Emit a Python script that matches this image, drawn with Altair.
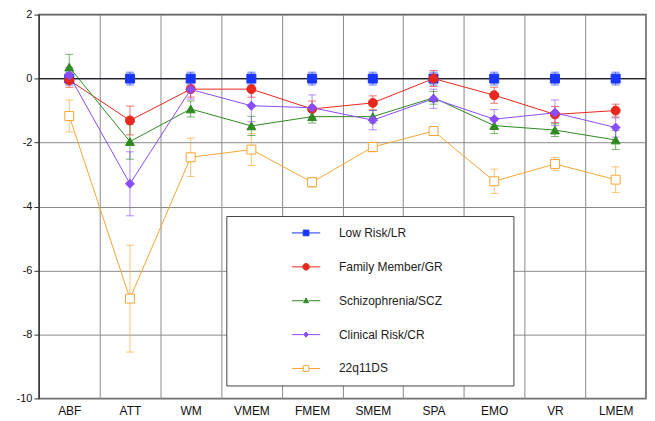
import altair as alt
import pandas as pd

categories = ["ABF", "ATT", "WM", "VMEM", "FMEM", "SMEM", "SPA", "EMO", "VR", "LMEM"]
series_names = ["Low Risk/LR", "Family Member/GR", "Schizophrenia/SCZ", "Clinical Risk/CR", "22q11DS"]

lr_vals = [0.0, 0.0, 0.0, 0.0, 0.0, 0.0, 0.0, 0.0, 0.0, 0.0]
lr_err = [0.2, 0.2, 0.2, 0.2, 0.2, 0.2, 0.2, 0.2, 0.2, 0.2]
gr_vals = [-0.05, -1.31, -0.33, -0.33, -0.95, -0.76, 0.0, -0.52, -1.12, -1.0]
gr_err = [0.22, 0.45, 0.25, 0.25, 0.25, 0.22, 0.25, 0.25, 0.25, 0.2]
scz_vals = [0.36, -1.97, -0.95, -1.48, -1.19, -1.19, -0.6, -1.47, -1.61, -1.92]
scz_err = [0.4, 0.55, 0.25, 0.3, 0.2, 0.2, 0.2, 0.25, 0.2, 0.3]
cr_vals = [0.1, -3.29, -0.34, -0.85, -0.91, -1.3, -0.63, -1.27, -1.07, -1.53]
cr_err = [0.25, 1.0, 0.3, 0.5, 0.4, 0.3, 0.3, 0.3, 0.4, 0.3]
q22_vals = [-1.17, -6.88, -2.46, -2.22, -3.24, -2.14, -1.64, -3.21, -2.67, -3.16]
q22_err = [0.5, 1.67, 0.6, 0.5, 0.15, 0.15, 0.12, 0.38, 0.2, 0.4]

y_ticks = [-10, -8, -6, -4, -2, 0, 2]

colors = ["#1836ff", "#e8281c", "#2f8a22", "#8a4cff", "#f5a633"]
fills = ["#1836ff", "#e8281c", "#2f8a22", "#8a4cff", "#ffffff"]
shapes = ["square", "circle", "triangle-up", "diamond", "square"]
sizes = [81, 80, 60, 50, 70]
legend_paths = [
    "M-1,0H-0.2M0.2,0H1M-0.2,-0.2H0.2V0.2H-0.2Z",
    "M-1,0H-0.23M0.23,0H1M-0.23,0A0.23,0.23,0,1,1,0.23,0A0.23,0.23,0,1,1,-0.23,0Z",
    "M-1,0H-0.18M0.18,0H1M0,-0.2L0.18,0.14L-0.18,0.14Z",
    "M-1,0H-0.16M0.16,0H1M0,-0.18L0.16,0L0,0.18L-0.16,0Z",
    "M-1,0H-0.2M0.2,0H1M-0.2,-0.2H0.2V0.2H-0.2Z",
]

rows = []
for name, vals, errs in zip(series_names,
                            [lr_vals, gr_vals, scz_vals, cr_vals, q22_vals],
                            [lr_err, gr_err, scz_err, cr_err, q22_err]):
    for c, v, e in zip(categories, vals, errs):
        rows.append({"test": c, "series": name, "value": v, "lo": v - e, "hi": v + e})
df = pd.DataFrame(rows)

FONT = "Liberation Sans"

x_enc = alt.X(
    "test:N", sort=categories,
    scale=alt.Scale(type="band", paddingInner=0, paddingOuter=0),
    axis=alt.Axis(title=None, labelAngle=0, grid=True, tickBand="extent", ticks=False,
                  domain=False, labelFontSize=12, labelPadding=7, labelColor="#111",
                  labelFont=FONT, gridColor="#8a8a8a", gridWidth=1),
)
y_scale = alt.Scale(domain=[-10, 2], nice=False, zero=False)
y_axis = alt.Axis(title=None, values=y_ticks, grid=True, gridColor="#8a8a8a", gridWidth=1,
                  tickColor="#333", tickSize=5, domainColor="#333", labelFontSize=11,
                  labelColor="#111", labelFont=FONT, labelPadding=2,
                  labelExpr="'' + datum.value")


def yq(field):
    return alt.Y(f"{field}:Q", scale=y_scale, axis=y_axis)


def stroke_enc(legend=None):
    return alt.Stroke("series:N", scale=alt.Scale(domain=series_names, range=colors), legend=legend)


base = alt.Chart(df)

lines = base.mark_line(strokeWidth=1).encode(x=x_enc, y=yq("value"), stroke=stroke_enc())

zero = alt.Chart(pd.DataFrame({"z": [0]})).mark_rule(color="#222", strokeWidth=1.3).encode(
    y=alt.Y("z:Q", scale=y_scale, axis=y_axis))

err_rules = base.mark_rule(strokeWidth=1, opacity=0.65).encode(
    x=x_enc, y=yq("lo"), y2="hi:Q", stroke=stroke_enc())
caps_lo = base.mark_tick(thickness=1, size=8, opacity=0.65).encode(
    x=x_enc, y=yq("lo"), color=alt.Color("series:N", scale=alt.Scale(domain=series_names, range=colors), legend=None))
caps_hi = base.mark_tick(thickness=1, size=8, opacity=0.65).encode(
    x=x_enc, y=yq("hi"), color=alt.Color("series:N", scale=alt.Scale(domain=series_names, range=colors), legend=None))

points = base.mark_point(filled=True, opacity=1, strokeWidth=1).encode(
    x=x_enc, y=yq("value"),
    shape=alt.Shape("series:N", scale=alt.Scale(domain=series_names, range=shapes), legend=None),
    size=alt.Size("series:N", scale=alt.Scale(domain=series_names, range=sizes), legend=None),
    fill=alt.Fill("series:N", scale=alt.Scale(domain=series_names, range=fills), legend=None),
    stroke=stroke_enc(),
)

leg = alt.Legend(
    orient="none", legendX=188, legendY=202, title="\u00a0", titleOrient="right", titlePadding=61,
    padding=10, fillColor="white", strokeColor="#444", clipHeight=14, rowPadding=20,
    symbolSize=811, symbolStrokeWidth=1, symbolOffset=55, labelOffset=18, symbolOpacity=1,
    labelFontSize=12, labelColor="#222", labelFont=FONT,
)

legend_layer = base.transform_filter("false").mark_point(filled=True, strokeWidth=1, opacity=1).encode(
    shape=alt.Shape("series:N", scale=alt.Scale(domain=series_names, range=legend_paths), legend=leg),
    fill=alt.Fill("series:N", scale=alt.Scale(domain=series_names, range=fills), legend=leg),
    stroke=alt.Stroke("series:N", scale=alt.Scale(domain=series_names, range=colors), legend=leg),
)

chart = alt.layer(lines, zero, err_rules, caps_lo, caps_hi, points, legend_layer).resolve_scale(
    shape="independent", fill="independent", stroke="independent", size="independent", color="independent"
).properties(
    width=609, height=385,
    padding={"left": 8, "top": 0, "right": 0, "bottom": 0},
    background="white",
).configure_view(stroke="#555", strokeWidth=1.5)

chart.save("out.html", embed_options={"renderer": "svg", "actions": False})
